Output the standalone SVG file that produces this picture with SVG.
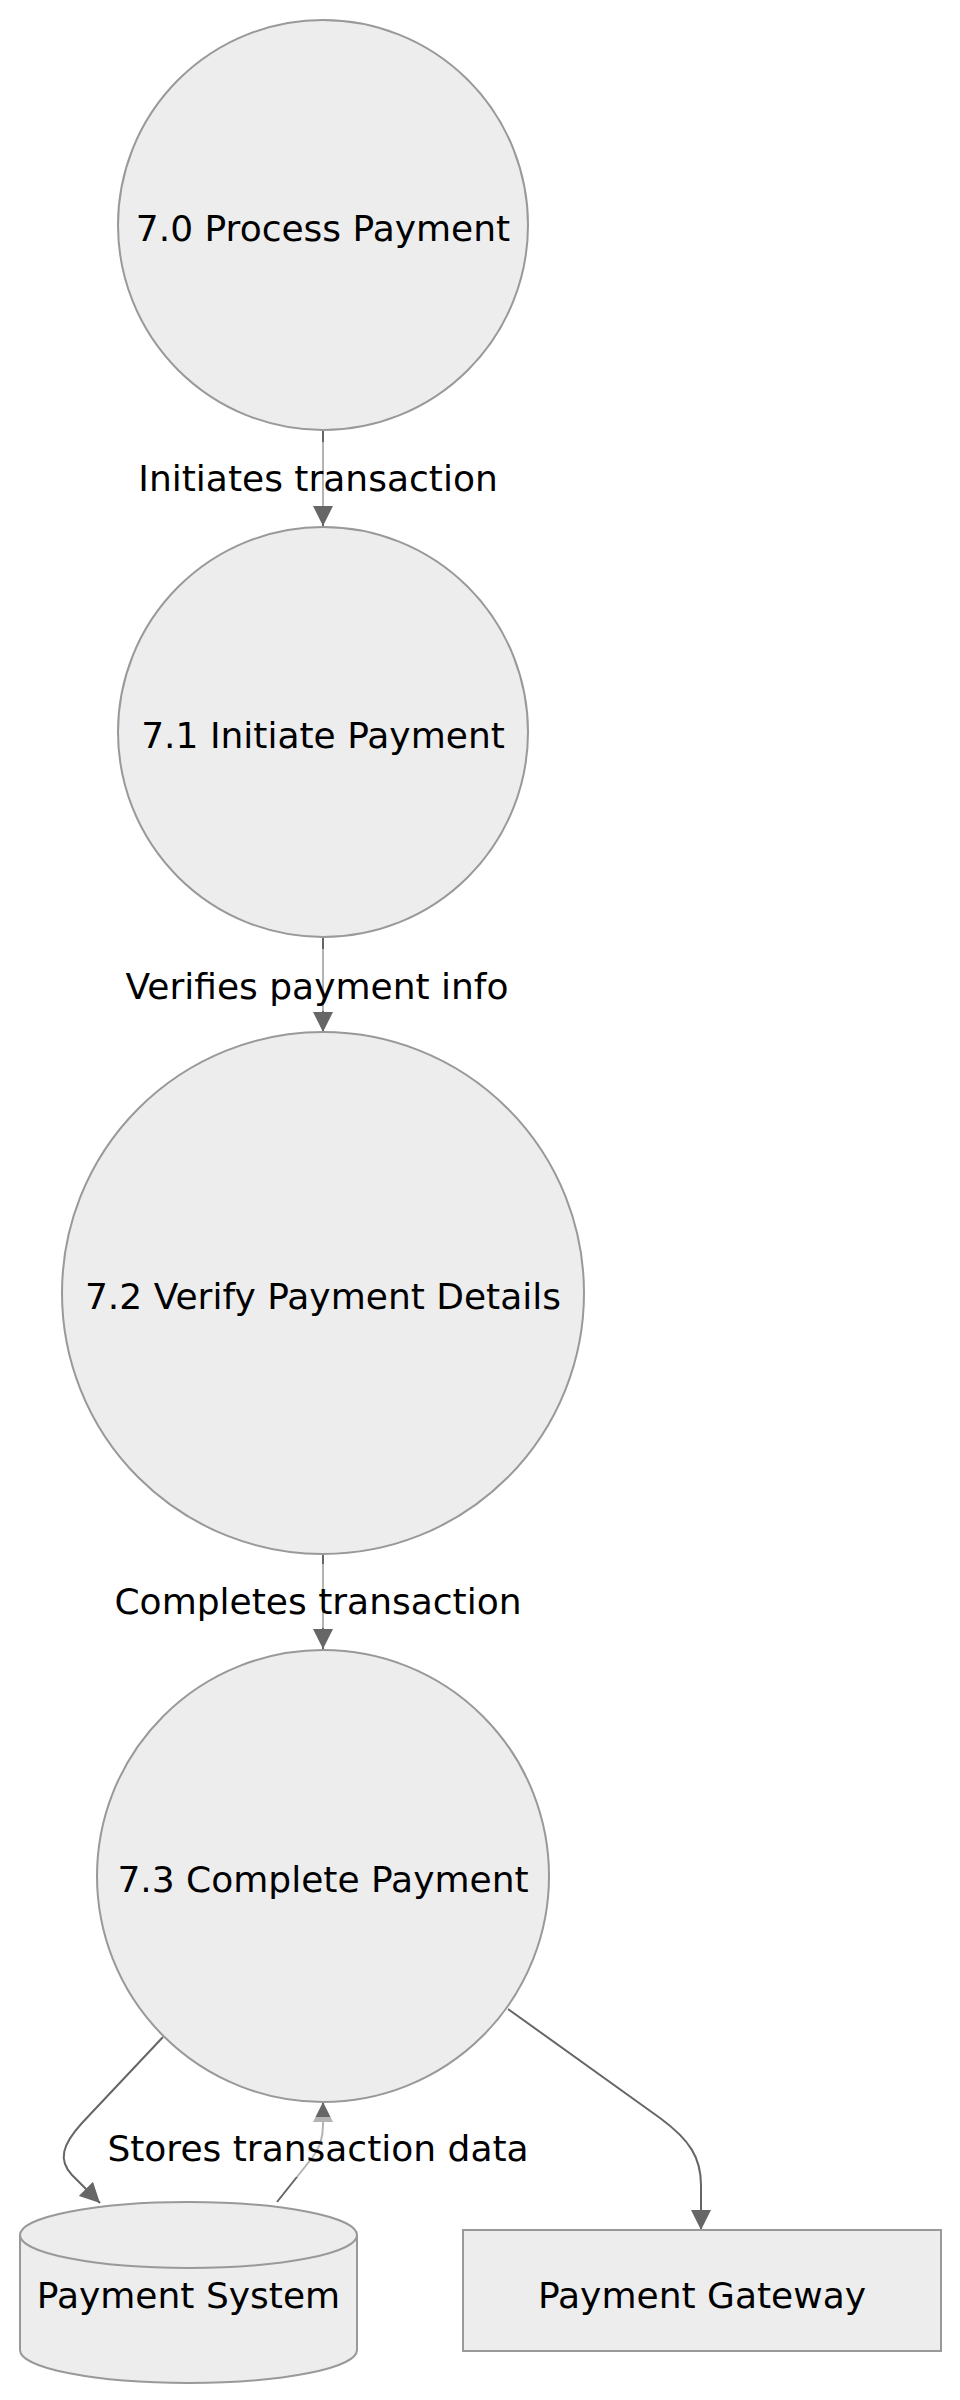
<svg xmlns="http://www.w3.org/2000/svg" width="960" height="2400" viewBox="0 0 960 2400">
<style>
.node{fill:#ededed;stroke:#999;stroke-width:2}
.edge{fill:none;stroke:#666;stroke-width:2}
.lbl{font-family:"DejaVu Sans","Liberation Sans",sans-serif;font-size:36px;fill:#000;text-anchor:middle}
.lblbg{fill:#fff;fill-opacity:0.5;stroke:none}
</style>
<defs>
<marker id="arrow" viewBox="0 0 20 20" refX="20" refY="10" markerWidth="20" markerHeight="20" markerUnits="userSpaceOnUse" orient="auto">
<path d="M0,0 L20,10 L0,20 z" fill="#666"/>
</marker>
</defs>
<rect x="0" y="0" width="960" height="2400" fill="#fff"/>
<g id="connectors">
<path class="edge" d="M323,430 L323,526" marker-end="url(#arrow)"/>
<path class="edge" d="M323,938 L323,1032" marker-end="url(#arrow)"/>
<path class="edge" d="M323,1554 L323,1649" marker-end="url(#arrow)"/>
<path class="edge" d="M163,2037 L82,2123 C62,2145 58,2160 72,2175 L100,2203" marker-end="url(#arrow)"/>
<path class="edge" d="M277,2202 L312,2158 C320,2147 323,2138 323,2125 L323,2102" marker-end="url(#arrow)"/>
<path class="edge" d="M508,2009 L660,2118 C690,2140 701,2158 701,2185 L701,2230" marker-end="url(#arrow)"/>
<g id="label-initiates">
<rect class="lblbg" x="135" y="442" width="367" height="64"/>
<text class="lbl" x="318" y="491">Initiates transaction</text>
</g>
<g id="label-verifies">
<rect class="lblbg" x="121" y="949" width="392" height="62"/>
<text class="lbl" x="317" y="999">Verifies payment info</text>
</g>
<g id="label-completes">
<rect class="lblbg" x="112" y="1564" width="412" height="64"/>
<text class="lbl" x="318" y="1614">Completes transaction</text>
</g>
<g id="label-stores">
<rect class="lblbg" x="104" y="2117" width="427" height="60"/>
<text class="lbl" x="318" y="2161">Stores transaction data</text>
</g>
</g>
<g id="node-7-0">
<circle class="node" cx="323" cy="225" r="205"/>
<text class="lbl" x="323" y="241">7.0 Process Payment</text>
</g>
<g id="node-7-1">
<circle class="node" cx="323" cy="732" r="205"/>
<text class="lbl" x="323" y="748">7.1 Initiate Payment</text>
</g>
<g id="node-7-2">
<circle class="node" cx="323" cy="1293" r="261"/>
<text class="lbl" x="323" y="1309">7.2 Verify Payment Details</text>
</g>
<g id="node-7-3">
<circle class="node" cx="323" cy="1876" r="226"/>
<text class="lbl" x="323" y="1892">7.3 Complete Payment</text>
</g>
<g id="node-payment-system">
<path class="node" d="M20,2235 a168.5,33 0 0,0 337,0 a168.5,33 0 0,0 -337,0 l0,115 a168.5,33 0 0,0 337,0 l0,-115"/>
<text class="lbl" x="188.5" y="2308">Payment System</text>
</g>
<g id="node-payment-gateway">
<rect class="node" x="463" y="2230" width="478" height="121"/>
<text class="lbl" x="702" y="2308">Payment Gateway</text>
</g>
</svg>
